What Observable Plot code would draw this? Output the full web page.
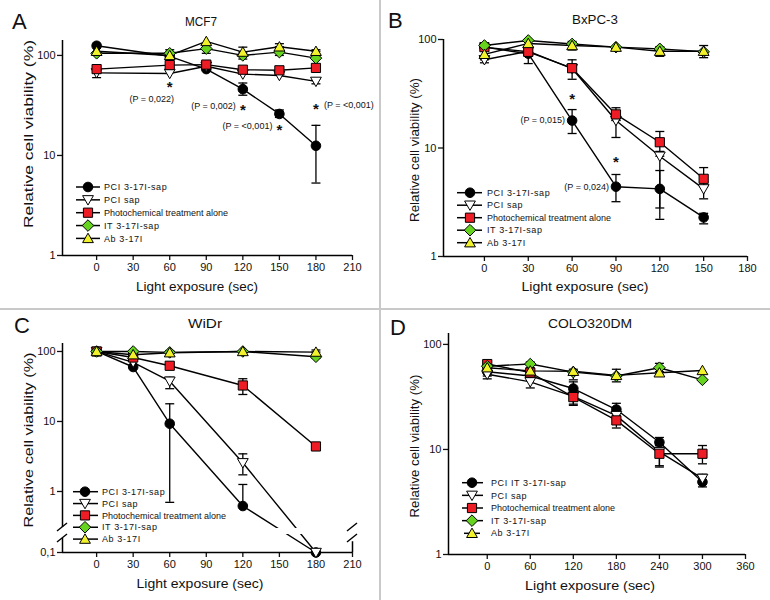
<!DOCTYPE html>
<html><head><meta charset="utf-8">
<script src="https://cdn.jsdelivr.net/npm/d3@7"></script>
<script src="https://cdn.jsdelivr.net/npm/@observablehq/plot@0.6"></script>
<style>
body{margin:0;background:#fff;}
#wrap{position:relative;width:770px;height:600px;background:#fff;overflow:hidden;}
.panel{position:absolute;}
.vdiv{position:absolute;left:379px;top:0;width:2px;height:600px;background:#c9c9c9;}
.hdiv{position:absolute;left:0;top:308px;width:770px;height:2px;background:#c9c9c9;}
</style></head><body><div id="wrap"></div>
<script>
// ---------------- DATA ----------------
const NAMES_ABC = ["PCI 3-17I-sap", "PCI sap", "Photochemical treatment alone", "IT 3-17I-sap", "Ab 3-17I"];
const NAMES_D = ["PCI IT 3-17I-sap", "PCI sap", "Photochemical treatment alone", "IT 3-17I-sap", "Ab 3-17I"];
const TITLES = ["MCF7", "BxPC-3", "WiDr", "COLO320DM"];
const LETTERS = ["A", "B", "C", "D"];
const X_TITLE = "Light exposure (sec)";
const Y_TITLE = "Relative cell viability (%)";

// Panel A – MCF7
const A_x = [0, 60, 90, 120, 150, 180];
const A_pci = [125, 98, 73, 46, 26, 12.5];
const A_pcisap = [67, 66, 78, 65, 63, 55];
const A_photo = [73, 80, 81, 72, 71, 75];
const A_it = [105, 105, 117, 100, 108, 94];
const A_ab = [110, 100, 138, 108, 122, 110];
const A_pci_err = [null, null, null, [40, 53], [24, 28.5], [5.3, 20]];
const A_pcisap_err = [[60, 67], null, null, null, null, [52, 58]];
const A_photo_err = [null, null, null, null, null, null];
const A_it_err = [null, null, [105, 117], [92, 100], [100, 108], null];
const A_ab_err = [null, [100, 114], null, [108, 121], [122, 131], [110, 114]];
const A_xTicks = [0, 30, 60, 90, 120, 150, 180, 210];
const A_notes = [
  {x: 60, v: 53, label: "*"}, {x: 60, v: 36.5, label: "(P = 0,022)", side: "belowLeft"},
  {x: 120, v: 31, label: "*"}, {x: 120, v: 31, label: "(P = 0,002)", side: "left"},
  {x: 150, v: 19.5, label: "*"}, {x: 150, v: 19.5, label: "(P = <0,001)", side: "left"},
  {x: 180, v: 31.6, label: "*"}, {x: 180, v: 31.6, label: "(P = <0,001)", side: "right"}
];

// Panel B – BxPC-3
const B_x = [0, 30, 60, 90, 120, 150];
const B_pci = [85, 74, 17.9, 4.4, 4.2, 2.29];
const B_pcisap = [65, 78, 54, 17.9, 8.4, 4.2];
const B_photo = [85, 77, 54.4, 20.4, 11.3, 5.2];
const B_it = [88, 98, 91, 85, 82, 77];
const B_ab = [73, 92, 88, 85, 78, 78];
const B_pci_err = [null, [60, 75], [13.6, 22.6], [3.2, 5.7], [2.2, 6.2], [2.0, 2.5]];
const B_pcisap_err = [[61, 65], null, null, [12.5, 17.9], [2.8, 8.4], [3.4, 4.9]];
const B_photo_err = [null, null, [43, 65], [18, 23.5], [9.3, 14.2], [4.4, 6.6]];
const B_it_err = [null, null, null, null, [70, 86], [68, 88]];
const B_ab_err = [null, null, [80, 96], null, null, null];
const B_xTicks = [0, 30, 60, 90, 120, 150, 180];
const B_notes = [
  {x: 60, v: 30.5, label: "*"}, {x: 60, v: 17.9, label: "(P = 0,015)", side: "left"},
  {x: 90, v: 8.0, label: "*"}, {x: 90, v: 4.4, label: "(P = 0,024)", side: "left"}
];

// Panel C – WiDr (broken axis: 0,1 shown below the break)
const C_x = [0, 30, 60, 120, 180];
const C_pci = [100, 60, 9.3, 0.62, 0.1];
const C_pcisap = [100, 70, 37.6, 2.57, 0.1];
const C_photo = [100, 82, 62.5, 32.7, 4.4];
const C_it = [100, 100, 97, 100, 84];
const C_ab = [100, 90, 96, 100, 98];
const C_pci_err = [null, null, [0.7, 17.9], [0.62, 1.26], null];
const C_pcisap_err = [null, null, [29.4, 42.9], [1.73, 3.45], null];
const C_photo_err = [null, null, null, [24.3, 40.8], null];
const C_it_err = [null, null, null, null, [80, 88]];
const C_ab_err = [null, null, [96, 103], null, [98, 105]];
const C_xTicks = [0, 30, 60, 90, 120, 150, 180, 210];
const C_LOW = 0.1;          // value shown below the axis break
const C_BREAK_TOP = 0.306;  // axis resumes above the break
const C_BREAK_BOTTOM = 0.213;
const C_GAP = [0.243, 0.296]; // line gap across the break

// Panel D – COLO320DM
const D_x = [0, 60, 120, 180, 240, 300];
const D_pci = [55, 50, 38, 24, 11.7, 4.9];
const D_pcisap = [52, 44, 32, 21, 9.5, 5.3];
const D_photo = [65, 54, 31.5, 18.9, 9.1, 9.1];
const D_it = [62, 65, 54.5, 50, 60, 46];
const D_ab = [60, 56, 55.5, 50.7, 53.7, 56.5];
const D_pci_err = [[50, 60], null, [26.3, 44], [21, 27.5], [10.5, 13], [4.4, 5.5]];
const D_pcisap_err = [[47, 57], [38.5, 48], null, null, [7, 11], [4.8, 5.8]];
const D_photo_err = [[60, 70], null, [27, 36], [16, 22], [6.8, 11], [7.3, 10.9]];
const D_it_err = [null, [60, 68], null, null, [55, 66], null];
const D_ab_err = [null, null, [46, 58], [44, 58], null, null];
const D_xTicks = [0, 60, 120, 180, 240, 300, 360];

// ---------------- STYLE ----------------
const FONT = "'Liberation Sans', Arial, Helvetica, sans-serif";
const INK = "#111";
const SYM = {
  circle: {draw(c) { c.moveTo(4.8, 0); c.arc(0, 0, 4.8, 0, 2 * Math.PI); }},
  triDown: {draw(c) { c.moveTo(-5.4, -4.2); c.lineTo(5.4, -4.2); c.lineTo(0, 5.2); c.closePath(); }},
  square: {draw(c) { const h = 4.6; c.moveTo(-h, -h); c.lineTo(h, -h); c.lineTo(h, h); c.lineTo(-h, h); c.closePath(); }},
  diamond: {draw(c) { const h = 5.8; c.moveTo(0, -h); c.lineTo(h, 0); c.lineTo(0, h); c.lineTo(-h, 0); c.closePath(); }},
  triUp: {draw(c) { c.moveTo(-5.4, 4.2); c.lineTo(5.4, 4.2); c.lineTo(0, -5.2); c.closePath(); }},
  cap: {draw(c) { c.moveTo(-4.5, 0); c.lineTo(4.5, 0); }}
};
const SERIES_STYLE = [
  {fill: "#000", sym: SYM.circle},
  {fill: "#fff", sym: SYM.triDown},
  {fill: "#ee1c24", sym: SYM.square},
  {fill: "#66d41e", sym: SYM.diamond},
  {fill: "#f2f22c", sym: SYM.triUp}
];

function buildPanel(cfg) {
  const ymap = cfg.ymap || (v => v);
  const rows = [], errRows = [];
  cfg.vals.forEach((vals, s) => vals.forEach((v, i) => {
    if (v == null) return;
    rows.push({s, x: cfg.x[i], y: ymap(v)});
    const e = cfg.errs[s][i];
    if (e) errRows.push({s, x: cfg.x[i], lo: ymap(e[0]), hi: ymap(e[1])});
  }));
  const xmin = cfg.xDomain[0];
  const marks = [];
  marks.push(Plot.ruleY([cfg.yDomain[0]], {stroke: "#000", strokeWidth: 1.5}));
  if (cfg.ySegments) {
    marks.push(Plot.ruleX(cfg.ySegments, {x: () => xmin, y1: d => d[0], y2: d => d[1], stroke: "#000", strokeWidth: 1.5}));
    marks.push(Plot.ruleX([cfg.xDomain[1]], {y1: cfg.yDomain[0], y2: C_BREAK_BOTTOM * 0.9, stroke: "#000", strokeWidth: 1.5}));
  } else {
    marks.push(Plot.ruleX([xmin], {stroke: "#000", strokeWidth: 1.5}));
  }
  marks.push(Plot.line(rows, {x: "x", y: "y", z: "s", stroke: "#000", strokeWidth: 1.4}));
  if (cfg.gap) {
    marks.push(Plot.rect([0], {x1: 128, x2: 200, y1: cfg.gap[0], y2: cfg.gap[1], fill: "#fff"}));
  }
  marks.push(Plot.ruleX(errRows, {x: "x", y1: "lo", y2: "hi", stroke: "#000", strokeWidth: 1.3}));
  marks.push(Plot.dot(errRows, {x: "x", y: "lo", r: 4, symbol: SYM.cap, stroke: "#000", fill: "none", strokeWidth: 1.3}));
  marks.push(Plot.dot(errRows, {x: "x", y: "hi", r: 4, symbol: SYM.cap, stroke: "#000", fill: "none", strokeWidth: 1.3}));
  SERIES_STYLE.forEach((st, s) => {
    marks.push(Plot.dot(rows.filter(d => d.s === s), {x: "x", y: "y", r: 4.5, symbol: st.sym, fill: st.fill, stroke: "#000", strokeWidth: 1}));
  });
  if (cfg.notes) {
    const stars = cfg.notes.filter(n => n.label === "*");
    const texts = cfg.notes.filter(n => n.label !== "*");
    marks.push(Plot.text(stars, {x: "x", y: "v", text: "label", fontSize: 15, fontWeight: "bold", dy: 4, fill: INK}));
    const sides = {left: ["end", -7], right: ["start", 8], belowLeft: ["middle", -18]};
    for (const side of Object.keys(sides)) {
      const sub = texts.filter(t => t.side === side);
      if (sub.length) marks.push(Plot.text(sub, {x: "x", y: "v", text: "label", fontSize: 9, textAnchor: sides[side][0], dx: sides[side][1], fill: INK}));
    }
  }
  const svgEl = Plot.plot({
    width: cfg.W, height: cfg.H,
    marginTop: cfg.mt, marginBottom: cfg.mb, marginLeft: cfg.ml, marginRight: cfg.mr,
    x: {domain: cfg.xDomain, ticks: cfg.xTicks, tickSize: 5, tickPadding: 3, label: null, tickFormat: d => String(d)},
    y: {type: "log", domain: cfg.yDomain, ticks: cfg.yTicks, tickSize: 5, tickPadding: 2, label: null, tickFormat: cfg.yFormat || (d => String(d))},
    style: {fontFamily: FONT, fontSize: "11px", color: INK, background: "transparent"},
    marks
  });
  const svg = d3.select(svgEl);
  svg.selectAll("[aria-label*='axis'] path, [aria-label*='axis'] line").attr("stroke-width", 1.3);
  const deco = svg.append("g").attr("text-anchor", "start").attr("font-family", FONT).attr("fill", INK);
  deco.append("text").attr("x", cfg.letter[0]).attr("y", cfg.letter[1]).text(cfg.letterText)
    .attr("font-size", 22).attr("text-anchor", "start");
  deco.append("text").attr("x", cfg.title[0]).attr("y", cfg.title[1]).text(cfg.titleText)
    .attr("font-size", 13).attr("text-anchor", "middle")
    .attr("textLength", cfg.title[2]).attr("lengthAdjust", "spacingAndGlyphs");
  deco.append("text").attr("transform", `translate(${cfg.ytitle[0]},${cfg.ytitle[1]}) rotate(-90)`).text(Y_TITLE)
    .attr("font-size", 13).attr("text-anchor", "middle")
    .attr("textLength", cfg.ytitle[2]).attr("lengthAdjust", "spacingAndGlyphs");
  deco.append("text").attr("x", cfg.xtitle[0]).attr("y", cfg.xtitle[1]).text(X_TITLE)
    .attr("font-size", 13).attr("text-anchor", "middle")
    .attr("textLength", cfg.xtitle[2]).attr("lengthAdjust", "spacingAndGlyphs");
  // legend
  const lg = cfg.legend;
  cfg.names.forEach((name, s) => {
    const y = lg.y0 + s * lg.dy;
    const short = lg.shortLast && s === cfg.names.length - 1;
    const x1 = short ? lg.mx - 8 : lg.x1, x2 = short ? lg.mx + 8 : lg.x2;
    deco.append("line").attr("x1", x1).attr("x2", x2).attr("y1", y).attr("y2", y).attr("stroke", "#000").attr("stroke-width", 1.5);
    const p = d3.path(); SERIES_STYLE[s].sym.draw(p);
    deco.append("path").attr("d", p.toString()).attr("transform", `translate(${lg.mx},${y})`)
      .attr("fill", SERIES_STYLE[s].fill).attr("stroke", "#000").attr("stroke-width", 1);
    deco.append("text").attr("x", lg.tx).attr("y", y).attr("dy", "0.35em").text(name)
      .attr("font-size", 9).attr("text-anchor", "start")
      .attr("letter-spacing", name.startsWith("Photo") ? 0 : 0.6);
  });
  if (cfg.ySegments) {
    const ys = d3.scaleLog(cfg.yDomain, [cfg.H - cfg.mb, cfg.mt]);
    const xl = cfg.ml, xr = cfg.W - cfg.mr;
    for (const xx of [xl, xr]) {
      for (const yy of [ys(C_BREAK_TOP), ys(C_BREAK_BOTTOM)]) {
        deco.append("line").attr("x1", xx - 5).attr("y1", yy + 4).attr("x2", xx + 5).attr("y2", yy - 4)
          .attr("stroke", "#000").attr("stroke-width", 1.5);
      }
    }
  }
  return svgEl;
}

const BRK = Math.pow(10, -61 / 70);
const panels = [
  {left: 0, top: 0, W: 380, H: 309, mt: 40, mb: 54, ml: 62, mr: 28,
   xDomain: [-28, 210], yDomain: [1, 141], xTicks: A_xTicks, yTicks: [1, 10, 100],
   x: A_x, vals: [A_pci, A_pcisap, A_photo, A_it, A_ab], errs: [A_pci_err, A_pcisap_err, A_photo_err, A_it_err, A_ab_err],
   notes: A_notes, names: NAMES_ABC, letterText: LETTERS[0], titleText: TITLES[0],
   letter: [12, 29], title: [201, 26, 32], ytitle: [33, 134, 188], xtitle: [197, 291, 122],
   legend: {x1: 76, x2: 100, mx: 88, tx: 104, y0: 187, dy: 12.85}},
  {left: 381, top: 0, W: 389, H: 309, mt: 39, mb: 53, ml: 62, mr: 23,
   xDomain: [-28, 180], yDomain: [1, 100], xTicks: B_xTicks, yTicks: [1, 10, 100],
   x: B_x, vals: [B_pci, B_pcisap, B_photo, B_it, B_ab], errs: [B_pci_err, B_pcisap_err, B_photo_err, B_it_err, B_ab_err],
   notes: B_notes, names: NAMES_ABC, letterText: LETTERS[1], titleText: TITLES[1],
   letter: [7, 28], title: [214, 24, 46], ytitle: [38, 150, 144], xtitle: [204, 291, 127],
   legend: {x1: 76, x2: 101, mx: 89, tx: 106, y0: 192.7, dy: 12.5}},
  {left: 0, top: 311, W: 380, H: 289, mt: 32, mb: 48, ml: 62, mr: 28,
   xDomain: [-28, 210], yDomain: [BRK, 130], xTicks: C_xTicks, yTicks: [BRK, 1, 10, 100],
   yFormat: d => d < 0.5 ? "0,1" : String(d),
   ymap: v => v <= C_LOW ? BRK : v,
   ySegments: [[BRK, C_BREAK_BOTTOM], [C_BREAK_TOP, 130]], gap: C_GAP,
   x: C_x, vals: [C_pci, C_pcisap, C_photo, C_it, C_ab], errs: [C_pci_err, C_pcisap_err, C_photo_err, C_it_err, C_ab_err],
   names: NAMES_ABC, letterText: LETTERS[2], titleText: TITLES[2],
   letter: [14, 22], title: [205, 17, 34], ytitle: [33, 129, 175], xtitle: [200, 277, 127],
   legend: {x1: 73, x2: 98, mx: 85, tx: 102, y0: 180.7, dy: 11.85}},
  {left: 381, top: 311, W: 389, H: 289, mt: 22, mb: 46, ml: 67, mr: 25,
   xDomain: [-54, 360], yDomain: [1, 127], xTicks: D_xTicks, yTicks: [1, 10, 100],
   x: D_x, vals: [D_pci, D_pcisap, D_photo, D_it, D_ab], errs: [D_pci_err, D_pcisap_err, D_photo_err, D_it_err, D_ab_err],
   names: NAMES_D, letterText: LETTERS[3], titleText: TITLES[3],
   letter: [9, 24], title: [209, 17, 84], ytitle: [38, 135, 143], xtitle: [209, 279, 130],
   legend: {x1: 81, x2: 102, mx: 91, tx: 110, y0: 171.7, dy: 12.65, shortLast: true}}
];

const wrap = document.getElementById("wrap");
for (const cfg of panels) {
  const div = document.createElement("div");
  div.className = "panel";
  div.style.left = cfg.left + "px";
  div.style.top = cfg.top + "px";
  div.appendChild(buildPanel(cfg));
  wrap.appendChild(div);
}
const v = document.createElement("div"); v.className = "vdiv"; wrap.appendChild(v);
const h = document.createElement("div"); h.className = "hdiv"; wrap.appendChild(h);
</script></body></html>
